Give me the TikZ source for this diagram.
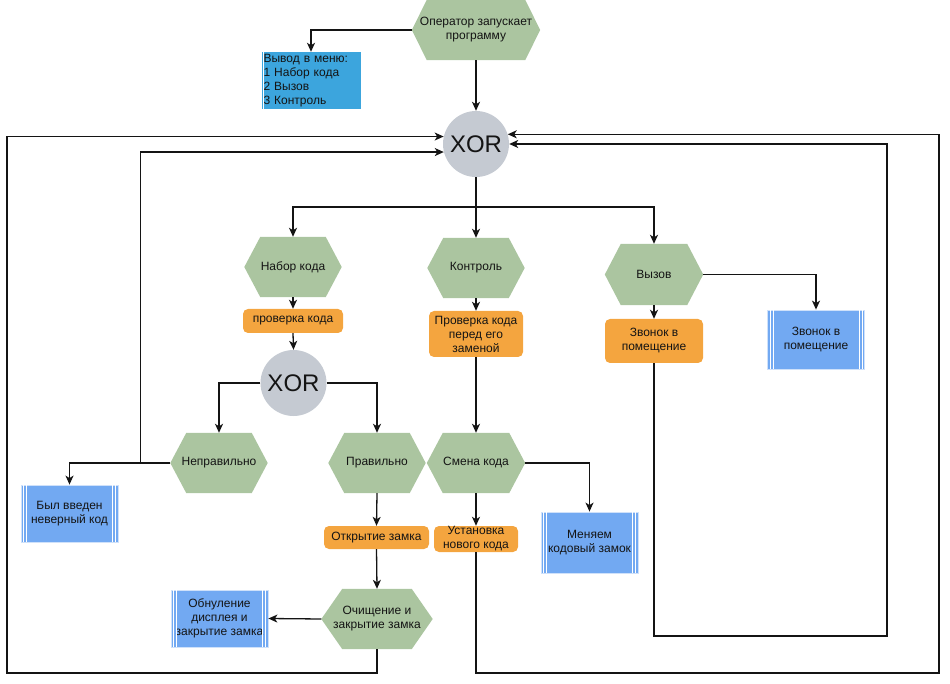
\documentclass[tikz,border=0pt]{standalone}
\usepackage{fontspec}
\setmainfont{Liberation Sans}
\setsansfont{Liberation Sans}
\usetikzlibrary{arrows.meta, positioning, backgrounds}
\definecolor{ink}{HTML}{141414}
\definecolor{leaf}{HTML}{ABC5A0}
\definecolor{amber}{HTML}{F4A53F}
\definecolor{sky}{HTML}{72A9F2}
\definecolor{skyedge}{HTML}{CFE1FA}
\definecolor{menublue}{HTML}{3CA5DD}
\definecolor{gate}{HTML}{C5CAD2}
\tikzset{
  font=\fontsize{12}{14}\selectfont,
  >={Stealth[length=9pt, width=8pt, inset=2.5pt]},
  %
  hexa/.style={inner sep=0pt, align=center, text=ink,
               minimum width=97pt, minimum height=60pt},
  act/.style={fill=amber, rounded corners=5pt, inner sep=0pt, align=center,
              text=ink, minimum width=96pt},
  proc/.style={fill=sky, draw=skyedge, line width=0.8pt, inner sep=0pt,
               align=center, text=ink, minimum width=97pt, minimum height=57pt},
  menubox/.style={fill=menublue, text=ink, text width=95pt, inner xsep=2pt,
                  inner ysep=0pt, minimum height=57pt, align=left},
  xorgate/.style={circle, fill=gate, inner sep=0pt, minimum size=66pt,
                  text=ink, font=\fontsize{24}{28}\selectfont},
  %
  flow/.style={draw=ink, line width=1.3pt, ->},
  stripe/.style={draw=white, line width=0.8pt},
}

\begin{document}
\begin{tikzpicture}[x=1pt, y=-1pt]
\useasboundingbox (0,0) rectangle (950,684);

% =========================================================================
% top: start, menu, first gate
% =========================================================================
\node[hexa, minimum width=128pt] (start) at (476,30) {Оператор запускает\\программу};
\node[menubox] (menu) at (311,80.5) {Вывод в меню:\\1 Набор кода\\2 Вызов\\3 Контроль};
\node[xorgate] (xorA) at (476,144) {XOR};

% =========================================================================
% three branches
% =========================================================================
\node[hexa] (nabor) at (293,267) {Набор кода};
\node[hexa] (kontrol) at (476,268) {Контроль};
\node[hexa, minimum width=98pt, minimum height=61pt] (vyzov) at (654,274.5) {Вызов};

\node[act, minimum width=100pt, minimum height=24pt] (provA) at (293,321) {проверка кода};
\node[act, minimum width=94pt, minimum height=46pt] (provB) at (476,334) {Проверка кода\\перед его\\заменой};
\node[act, minimum width=98pt, minimum height=44pt] (zvonokA) at (654,341) {Звонок в\\помещение};
\node[proc, minimum height=59pt] (zvonokB) at (816,339.5) {Звонок в\\помещение};

\node[xorgate] (xorB) at (293.5,383) {XOR};

\node[hexa] (nepr) at (219,463) {Неправильно};
\node[hexa] (prav) at (377,463) {Правильно};
\node[hexa, minimum width=98pt] (smena) at (476,463) {Смена кода};
\node[proc, minimum height=61pt] (menjaem) at (589.5,542.5) {Меняем\\кодовый замок};

\node[proc] (byl) at (69.5,513.5) {Был введен\\неверный код};
\node[act, minimum width=105pt, minimum height=23pt] (otkr) at (376.5,537.5) {Открытие замка};
\node[act, minimum width=84pt, minimum height=26pt] (ustan) at (476,539) {Установка\\нового кода};

\node[hexa, minimum width=111pt] (ochist) at (377,619) {Очищение и\\закрытие замка};
\node[proc] (obnul) at (219.5,618.5) {Обнуление\\дисплея и\\закрытие замка};

% hexagon fills and box stripes
\begin{scope}[on background layer]
  \foreach \n/\d in {start/15, nabor/16, kontrol/16, vyzov/16, nepr/16,
                     prav/16, smena/16, ochist/21}
    \fill[leaf] ([xshift=\d pt]\n.north west) -- ([xshift=-\d pt]\n.north east)
      -- (\n.east) -- ([xshift=-\d pt]\n.south east)
      -- ([xshift=\d pt]\n.south west) -- (\n.west) -- cycle;
\end{scope}
\foreach \n in {byl, obnul, menjaem, zvonokB}
  \foreach \s in {3, 6} {
    \draw[stripe] ([xshift=\s pt]\n.north west) -- ([xshift=\s pt]\n.south west);
    \draw[stripe] ([xshift=-\s pt]\n.north east) -- ([xshift=-\s pt]\n.south east);
  }
\draw[stripe, line width=1pt] ([xshift=2.5pt]menu.north west) -- ([xshift=2.5pt]menu.south west);

% =========================================================================
% connectors
% =========================================================================
\coordinate (splitA) at (476,207);
\path (nepr.west) ++(-30,0) coordinate (junL);

\draw[flow] (start.west) -| (menu.north);
\draw[flow] (start.south) -- (xorA.north);

\draw[flow] (xorA.south) -- (kontrol.north);
\draw[flow] (splitA) -| (nabor.north);
\draw[flow] (splitA) -| (vyzov.north);

\draw[flow] (nabor.south) -- (provA.north);
\draw[flow] (provA.south) -- (xorB.north);
\draw[flow] (kontrol.south) -- (provB.north);
\draw[flow] (provB.south) -- (smena.north);
\draw[flow] (vyzov.south) -- (zvonokA.north);
\draw[flow] (vyzov.east) -| (zvonokB.north);

\draw[flow] (xorB.west) -| (nepr.north);
\draw[flow] (xorB.east) -| (prav.north);
\draw[flow] (nepr.west) -| (byl.north);
\draw[flow] (junL) |- (xorA.194.03);

\draw[flow] (prav.south) -- (otkr.north);
\draw[flow] (otkr.south) -- (ochist.north);
\draw[flow] (ochist.west) -- (obnul.east);
\draw[flow] (smena.south) -- (ustan.north);
\draw[flow] (smena.east) -| (menjaem.north);

% loops back to the first gate
\draw[flow] (ochist.south) |- (7,673) |- (xorA.167.75);
\draw[flow] (zvonokA.south) |- (887,636) |- (xorA.east);
\draw[flow] (ustan.south) |- (939,673) |- (xorA.17.64);

\end{tikzpicture}
\end{document}
